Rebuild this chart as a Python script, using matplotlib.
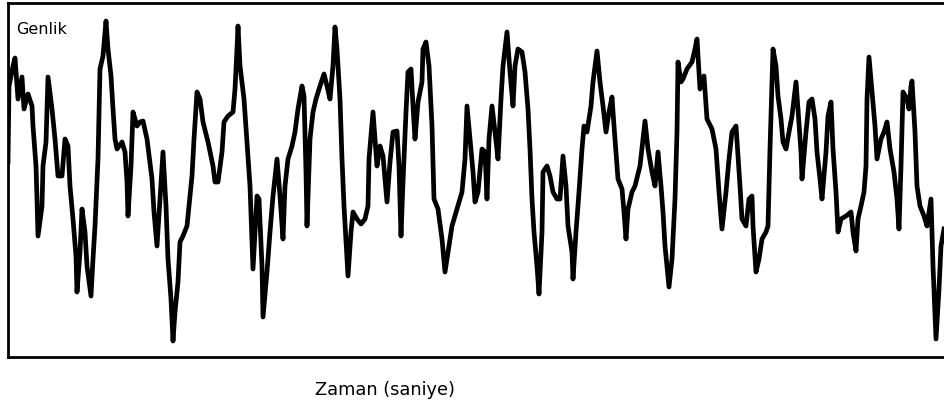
import matplotlib
matplotlib.use("Agg")
import matplotlib.pyplot as plt

plt.rcParams['font.family'] = ['DejaVu Sans']

# zaman ekseni (örnek konumu) ve genlik degerleri
time = [8, 9, 13, 15, 18, 22, 24, 28, 32, 33, 36, 37, 38, 42, 43, 46, 48, 52, 55, 58,
        62, 65, 68, 70, 73, 76, 77, 80, 82, 85, 87, 91, 93, 95, 98, 100, 103, 106, 108, 111,
        113, 115, 117, 122, 125, 127, 128, 131, 133, 137, 140, 143, 147, 152, 154, 157, 160, 163, 166, 168,
        171, 173, 175, 178, 180, 183, 187, 189, 192, 194, 197, 200, 203, 208, 213, 215, 218, 222, 224, 228,
        233, 235, 237, 238, 240, 244, 247, 250, 253, 257, 259, 262, 263, 267, 270, 273, 277, 280, 283, 285,
        288, 292, 295, 298, 302, 304, 306, 307, 310, 313, 316, 320, 324, 327, 330, 333, 335, 337, 340, 342,
        344, 346, 348, 351, 353, 357, 361, 365, 368, 369, 373, 375, 377, 380, 383, 385, 387, 390, 393, 397,
        399, 401, 403, 406, 408, 411, 413, 415, 418, 422, 423, 426, 429, 432, 434, 438, 442, 445, 448, 452,
        457, 462, 465, 467, 470, 473, 475, 478, 482, 485, 487, 489, 492, 495, 498, 501, 503, 507, 510, 513,
        515, 518, 522, 525, 528, 530, 532, 534, 537, 539, 542, 543, 547, 550, 553, 557, 560, 563, 566, 568,
        572, 573, 576, 579, 582, 584, 587, 591, 593, 597, 600, 603, 606, 609, 612, 614, 616, 618, 622, 624,
        626, 628, 632, 635, 640, 643, 645, 648, 652, 655, 658, 661, 663, 665, 667, 669, 672, 673, 675, 677,
        678, 681, 683, 687, 692, 695, 697, 700, 704, 707, 712, 716, 719, 722, 726, 729, 732, 736, 738, 740,
        742, 746, 749, 752, 753, 756, 759, 762, 766, 768, 770, 772, 773, 776, 778, 781, 783, 786, 789, 792,
        796, 798, 801, 802, 806, 809, 812, 815, 817, 820, 822, 826, 828, 831, 833, 836, 838, 841, 846, 851,
        853, 856, 858, 861, 864, 866, 867, 869, 872, 875, 877, 881, 884, 887, 890, 894, 897, 899, 901, 903,
        907, 909, 911, 912, 915, 917, 920, 924, 927, 931, 933, 936, 939, 941, 944]

amplitude = [18, 94, 114, 122, 81, 103, 71, 86, 74, 54, 14, -19, -56, -26, 14, 38, 103, 71, 41, 4,
             4, 41, 34, -6, -39, -76, -112, -72, -29, -52, -86, -116, -79, -46, 21, 111, 124, 159, 131, 104,
             71, 41, 31, 38, 28, -2, -36, 14, 68, 54, 58, 59, 41, 1, -32, -66, -19, 28, -26, -79,
             -119, -161, -132, -102, -62, -56, -46, -26, 4, 41, 88, 81, 58, 38, 14, -2, -2, 28, 58, 64,
             68, 91, 131, 154, 114, 81, 38, -6, -89, -16, -19, -86, -137, -92, -52, -16, 21, -16, -59, -6,
             21, 34, 48, 71, 94, 84, 8, -46, 41, 68, 81, 94, 106, 94, 81, 114, 153, 131, 81, 21,
             -26, -62, -96, -52, -32, -39, -44, -39, -26, 21, 68, 41, 14, 34, 24, 1, -22, 18, 48, 49,
             14, -56, -2, 68, 108, 111, 74, 41, 78, 98, 131, 138, 114, 54, -19, -29, -59, -92, -72, -46,
             -29, -12, 21, 74, 41, 8, -22, -12, 31, 28, -19, 41, 74, 48, 21, 81, 114, 148, 108, 74,
             114, 131, 128, 108, 71, 31, -19, -52, -86, -114, -52, 8, 14, 4, -12, -19, -19, 24, -6, -46,
             -72, -99, -52, -12, 31, 54, 48, 74, 98, 129, 98, 74, 48, 68, 83, 54, 28, 1, -9, -32,
             -59, -29, -12, -6, 14, 41, 59, 31, 8, -6, 28, -6, -32, -66, -86, -107, -79, -59, -19, 48,
             118, 98, 101, 111, 118, 131, 141, 91, 104, 61, 51, 31, -12, -49, -12, 21, 48, 54, 24, -6,
             -39, -46, -19, -16, -46, -92, -79, -59, -52, -46, 31, 98, 131, 114, 84, 61, 38, 31, 48, 64,
             98, 71, 28, 1, 48, 78, 81, 61, 28, 1, -19, 28, 64, 78, 31, -12, -52, -39, -36, -32,
             -52, -71, -39, -26, -12, 14, 81, 123, 88, 54, 21, 41, 48, 58, 31, 8, -19, -49, 14, 88,
             81, 71, 94, 99, 48, -6, -26, -36, -46, -19, -86, -159, -109, -66, -49]

fig = plt.figure(figsize=(9.44, 4.06), dpi=100)
ax = fig.add_axes([8 / 944, 48 / 406, 936 / 944, 354 / 406])

ax.plot(time, amplitude, color='black', lw=3.4)

ax.set_xlim(8, 944)
ax.set_ylim(-177, 177)
ax.set_xticks([])
ax.set_yticks([])
for side in ['left', 'top', 'bottom']:
    ax.spines[side].set_linewidth(2.0)
ax.spines['right'].set_visible(False)

fig.text(16 / 944, 1 - 30 / 406, 'Genlik', fontsize=11.5, va='center', ha='left')
fig.text(385 / 944, 1 - 390 / 406, 'Zaman (saniye)', fontsize=12.8, va='center', ha='center')

fig.savefig('out.png', dpi=100)
